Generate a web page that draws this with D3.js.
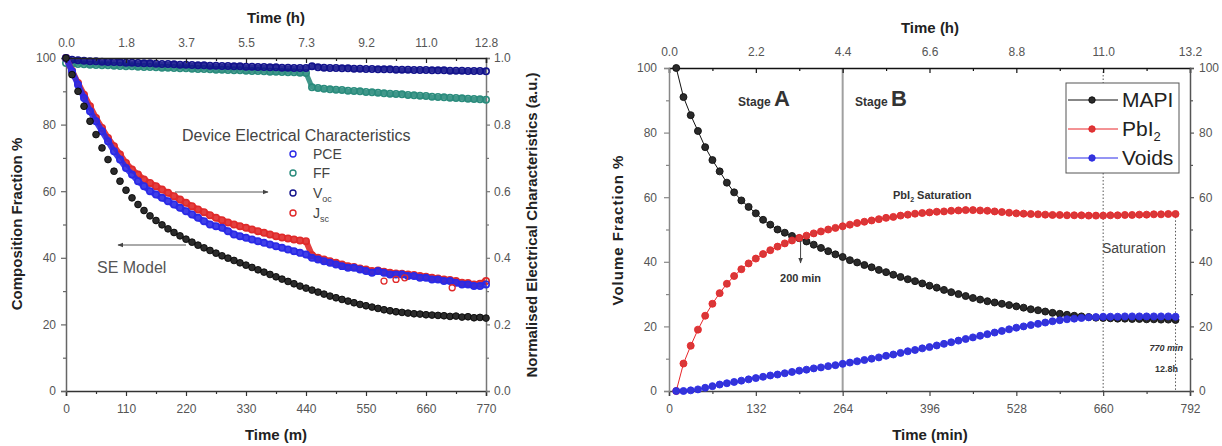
<!DOCTYPE html>
<html>
<head>
<meta charset="utf-8">
<script src="https://cdn.jsdelivr.net/npm/d3@7"></script>
<style>
  body { margin: 0; background: #fff; }
  svg { display: block; font-family: Arial, "Liberation Sans", sans-serif; }
  .tick text { fill: #555; font-size: 12px; }
  .axis-title { font-weight: bold; font-size: 15px; fill: #222; }
</style>
</head>
<body>
<div id="chart"></div>
<script>
// 1: DATA
// left panel: time in minutes
const leftTime = [0,11,22,33,44,55,66,77,88,99,110,121,132,143,154,165,176,187,198,209,220,231,242,253,264,275,286,297,308,319,330,341,352,363,374,385,396,407,418,429,440,451,462,473,484,495,506,517,528,539,550,561,572,583,594,605,616,627,638,649,660,671,682,693,704,715,726,737,748,759,770];
const seModel = [100,95,90,85.5,81,77,73,69.5,66,63,60.3,58,56,54.2,52.6,51.2,49.9,48.7,47.6,46.6,45.6,44.7,43.8,43,42.2,41.4,40.6,39.9,39.2,38.5,37.8,37.1,36.4,35.7,35,34.3,33.6,32.9,32.2,31.5,30.9,30.3,29.7,29.1,28.5,28,27.5,27,26.5,26,25.6,25.2,24.8,24.4,24.1,23.8,23.6,23.4,23.2,23.1,22.9,22.8,22.7,22.6,22.4,22.5,22.2,22.3,22.0,22.1,21.9];
const pce = [1.0,0.96,0.92,0.88,0.84,0.81,0.78,0.75,0.72,0.695,0.67,0.65,0.63,0.615,0.60,0.59,0.58,0.57,0.56,0.55,0.54,0.53,0.52,0.51,0.50,0.495,0.49,0.48,0.47,0.465,0.46,0.455,0.45,0.445,0.44,0.435,0.43,0.425,0.42,0.415,0.41,0.40,0.395,0.39,0.385,0.38,0.375,0.37,0.37,0.365,0.36,0.355,0.36,0.355,0.35,0.35,0.35,0.345,0.345,0.34,0.34,0.335,0.335,0.33,0.33,0.325,0.32,0.32,0.315,0.315,0.32];
const jsc = [1.0,0.962,0.925,0.89,0.855,0.82,0.79,0.76,0.735,0.71,0.685,0.665,0.65,0.635,0.625,0.615,0.605,0.595,0.585,0.575,0.565,0.555,0.545,0.537,0.528,0.52,0.513,0.506,0.50,0.495,0.49,0.485,0.48,0.475,0.47,0.465,0.461,0.458,0.455,0.452,0.45,0.408,0.40,0.395,0.39,0.385,0.38,0.375,0.372,0.368,0.365,0.36,0.362,0.358,0.355,0.353,0.352,0.35,0.348,0.345,0.343,0.34,0.338,0.335,0.333,0.33,0.325,0.324,0.32,0.322,0.33];
const jscOutlierTime = [583,605,621,708];
const jscOutlierValue = [0.33,0.335,0.34,0.31];
const voc = [1.0,0.995,0.993,0.992,0.99,0.99,0.989,0.988,0.988,0.987,0.986,0.986,0.985,0.984,0.984,0.983,0.982,0.982,0.981,0.98,0.98,0.979,0.978,0.978,0.977,0.977,0.976,0.976,0.975,0.975,0.974,0.974,0.973,0.973,0.972,0.972,0.971,0.971,0.97,0.97,0.97,0.975,0.972,0.971,0.97,0.97,0.969,0.969,0.968,0.968,0.967,0.967,0.966,0.966,0.966,0.965,0.965,0.965,0.964,0.964,0.964,0.963,0.963,0.963,0.962,0.962,0.962,0.961,0.961,0.961,0.96];
const ff = [0.985,0.983,0.982,0.981,0.98,0.979,0.978,0.978,0.977,0.976,0.975,0.975,0.974,0.973,0.973,0.972,0.971,0.971,0.97,0.969,0.969,0.968,0.967,0.967,0.966,0.965,0.965,0.964,0.963,0.963,0.962,0.961,0.961,0.96,0.959,0.959,0.958,0.957,0.957,0.956,0.955,0.912,0.91,0.908,0.906,0.905,0.904,0.902,0.901,0.9,0.898,0.897,0.896,0.894,0.893,0.892,0.891,0.889,0.888,0.887,0.886,0.884,0.883,0.882,0.881,0.88,0.879,0.878,0.877,0.876,0.875];

// right panel: time in minutes
const rightTime = [11,22,33,44,55,66,77,88,99,110,121,132,143,154,165,176,187,198,209,220,231,242,253,264,275,286,297,308,319,330,341,352,363,374,385,396,407,418,429,440,451,462,473,484,495,506,517,528,539,550,561,572,583,594,605,616,627,638,649,660,671,682,693,704,715,726,737,748,759,770];
const mapi = [100,91,85.4,80.5,75.5,71.5,68,64.5,61.5,59,57,55,53,51.5,50,49,48,47.3,46.3,45.3,44.3,43.3,42.3,41.5,40.5,39.8,39,38.3,37.5,36.8,36,35.3,34.6,34,33.3,32.6,32,31.3,30.6,30,29.4,28.8,28.3,27.8,27.4,27,26.6,26.2,25.8,25.3,25,24.6,24.2,23.9,23.6,23.3,23.1,22.9,22.7,22.6,22.5,22.4,22.4,22.3,22.3,22.2,22.2,22.1,22.1,22];
const pbi2 = [0,8.5,14,19,23.3,27,30.3,33.2,35.6,37.7,39.5,41,42.4,43.6,44.7,45.7,46.6,47.4,48.1,48.8,49.4,50,50.5,51,51.5,52,52.4,52.8,53.2,53.6,53.9,54.3,54.6,54.9,55.1,55.3,55.5,55.6,55.8,55.9,56,56,55.9,55.8,55.6,55.4,55.2,55,54.9,54.8,54.7,54.6,54.5,54.5,54.4,54.4,54.4,54.3,54.3,54.3,54.4,54.4,54.5,54.5,54.6,54.6,54.7,54.7,54.8,54.8];
const voids = [0,0,0.2,0.5,1.0,1.5,2.0,2.4,2.8,3.2,3.6,4.0,4.4,4.8,5.1,5.5,5.9,6.3,6.6,7.0,7.3,7.7,8.0,8.4,8.8,9.2,9.6,10.0,10.4,10.9,11.3,11.8,12.3,12.7,13.2,13.6,14.1,14.6,15.1,15.6,16.1,16.6,17.1,17.6,18.1,18.6,19.1,19.6,20.0,20.4,20.8,21.2,21.6,21.9,22.2,22.4,22.6,22.8,22.9,23.0,23.0,23.0,23.1,23.1,23.1,23.1,23.1,23.1,23.1,23.0];

// ticks
const leftMinTicks = [0,110,220,330,440,550,660,770];
const leftHourLabels = ["0.0","1.8","3.7","5.5","7.3","9.2","11.0","12.8"];
const rightMinTicks = [0,132,264,396,528,660,792];
const rightHourLabels = ["0.0","2.2","4.4","6.6","8.8","11.0","13.2"];
const fracTicks = [0,20,40,60,80,100];
const normTicks = [0,0.2,0.4,0.6,0.8,1.0];

const leftSeries = [
  { name: "FF", values: ff, color: "#2b8c7d", band: 5 },
  { name: "Voc", values: voc, color: "#14148c", band: 5 },
  { name: "Jsc", values: jsc, color: "#e02a2a", band: 6 },
  { name: "PCE", values: pce, color: "#2a2ae6", band: 6 }
];
const rightSeries = [
  { name: "MAPI", values: mapi, color: "#111", fill: "#2a2a2a" },
  { name: "PbI2", values: pbi2, color: "#e8262a", fill: "#d83838" },
  { name: "Voids", values: voids, color: "#2a2ae8", fill: "#3434d8" }
];

// 2: SVG
const svg = d3.select("#chart").append("svg")
  .attr("width", 1222).attr("height", 446);

const defs = svg.append("defs");
defs.append("marker").attr("id", "arrow")
  .attr("viewBox", "0 0 10 10").attr("refX", 9).attr("refY", 5)
  .attr("markerWidth", 6).attr("markerHeight", 6).attr("orient", "auto-start-reverse")
  .append("path").attr("d", "M0,1 L10,5 L0,9 z").attr("fill", "#444");

// helper: style an axis group
function styleAxis(g, color) {
  g.select(".domain").attr("stroke", color).attr("stroke-width", 1.5);
  g.selectAll(".tick line").attr("stroke", color).attr("stroke-width", 1.2);
}
function minorAxis(g, color) {
  g.select(".domain").remove();
  g.selectAll("text").remove();
  g.selectAll(".tick line").attr("stroke", color).attr("stroke-width", 1.2);
}

// 3: LEFT PANEL
const xL = d3.scaleLinear().domain([0, 770]).range([66, 486]);
const yL = d3.scaleLinear().domain([0, 100]).range([391, 58]);
const yLR = d3.scaleLinear().domain([0, 1]).range([391, 58]);
const left = svg.append("g");

// axes
left.append("g").attr("transform", "translate(0,391)")
  .call(d3.axisBottom(xL).tickValues(leftMinTicks).tickSize(5).tickPadding(8)).call(styleAxis, "#333");
left.append("g").attr("transform", "translate(0,391)")
  .call(d3.axisBottom(xL).tickValues(d3.range(55, 770, 110)).tickSize(3)).call(minorAxis, "#333");
left.append("g").attr("transform", "translate(66,0)")
  .call(d3.axisLeft(yL).tickValues(fracTicks).tickSize(5).tickPadding(5)).call(styleAxis, "#666");
left.append("g").attr("transform", "translate(66,0)")
  .call(d3.axisLeft(yL).tickValues(d3.range(10, 100, 20)).tickSize(3)).call(minorAxis, "#666");
left.append("g").attr("transform", "translate(486,0)")
  .call(d3.axisRight(yLR).tickValues(normTicks).tickSize(4).tickPadding(4)
    .tickFormat(d3.format(".1f"))).call(styleAxis, "#777");
left.append("g").attr("transform", "translate(486,0)")
  .call(d3.axisRight(yLR).tickValues(d3.range(0.1, 1, 0.2)).tickSize(3)).call(minorAxis, "#777");

// electrical characteristics: dense band of open circles
const lineL = d3.line().x(d => xL(d.t)).y(d => yLR(d.v));
leftSeries.forEach(s => {
  const pts = leftTime.map((t, i) => ({ t, v: s.values[i] }));
  left.append("path").attr("d", lineL(pts)).attr("fill", "none")
    .attr("stroke", s.color).attr("stroke-width", s.band).attr("stroke-linejoin", "round")
    .attr("opacity", 0.9);
  left.append("g").selectAll("circle").data(pts).join("circle")
    .attr("cx", d => xL(d.t)).attr("cy", d => yLR(d.v)).attr("r", 3.2)
    .attr("fill", "none").attr("stroke", s.color).attr("stroke-width", 1.6);
});
// scattered Jsc points below the band
left.append("g").selectAll("circle")
  .data(jscOutlierTime.map((t, i) => ({ t, v: jscOutlierValue[i] })))
  .join("circle")
  .attr("cx", d => xL(d.t)).attr("cy", d => yLR(d.v)).attr("r", 3)
  .attr("fill", "none").attr("stroke", "#e02a2a").attr("stroke-width", 1.3);

// top axis drawn over the bands
left.append("g").attr("transform", "translate(0,58)")
  .call(d3.axisTop(xL).tickValues(leftMinTicks).tickSize(-5).tickPadding(11)
    .tickFormat((d, i) => leftHourLabels[i])).call(styleAxis, "#222");
left.append("g").attr("transform", "translate(0,58)")
  .call(d3.axisTop(xL).tickValues(d3.range(55, 770, 110)).tickSize(-3)).call(minorAxis, "#222");

// SE model (filled dark circles)
left.append("g").selectAll("circle")
  .data(leftTime.map((t, i) => ({ t, v: seModel[i] })))
  .join("circle")
  .attr("cx", d => xL(d.t)).attr("cy", d => yL(d.v)).attr("r", 3.4)
  .attr("fill", "#2b2b2b").attr("stroke", "#000").attr("stroke-width", 0.8);

// titles
left.append("text").attr("class", "axis-title").attr("x", 276).attr("y", 23)
  .attr("text-anchor", "middle").text("Time (h)");
left.append("text").attr("class", "axis-title").attr("x", 276).attr("y", 440)
  .attr("text-anchor", "middle").text("Time (m)");
left.append("text").attr("class", "axis-title")
  .attr("transform", "translate(22,224) rotate(-90)")
  .attr("text-anchor", "middle").text("Composition Fraction %");
left.append("text").attr("class", "axis-title")
  .attr("transform", "translate(537,225) rotate(-90)")
  .attr("text-anchor", "middle").text("Normalised Electrical Characteristics (a.u.)");

// legend
left.append("text").attr("x", 182).attr("y", 141).attr("font-size", 16).attr("fill", "#444")
  .text("Device Electrical Characteristics");
const legL = [
  { label: "PCE", sub: "", color: "#2a2ae6", y: 154 },
  { label: "FF", sub: "", color: "#2b8c7d", y: 173 },
  { label: "V", sub: "oc", color: "#14148c", y: 193 },
  { label: "J", sub: "sc", color: "#e02a2a", y: 213 }
];
const lg = left.selectAll(".legL").data(legL).join("g").attr("class", "legL")
  .attr("transform", d => `translate(293,${d.y})`);
lg.append("circle").attr("r", 3).attr("fill", "none")
  .attr("stroke", d => d.color).attr("stroke-width", 1.4);
const lt = lg.append("text").attr("x", 20).attr("y", 5).attr("font-size", 14).attr("fill", "#444")
  .text(d => d.label);
lt.append("tspan").attr("font-size", 9).attr("dy", 4).text(d => d.sub);

// arrows and SE model label
left.append("line").attr("x1", 175).attr("y1", 192).attr("x2", 268).attr("y2", 192)
  .attr("stroke", "#555").attr("stroke-width", 1).attr("marker-end", "url(#arrow)");
left.append("line").attr("x1", 186).attr("y1", 245).attr("x2", 118).attr("y2", 245)
  .attr("stroke", "#555").attr("stroke-width", 1).attr("marker-end", "url(#arrow)");
left.append("text").attr("x", 97).attr("y", 273).attr("font-size", 16).attr("fill", "#555")
  .text("SE Model");

// 4: RIGHT PANEL
const xR = d3.scaleLinear().domain([0, 792]).range([669, 1190]);
const yR = d3.scaleLinear().domain([0, 100]).range([391, 68]);
const right = svg.append("g");

// stage lines
right.append("line").attr("x1", xR(264)).attr("x2", xR(264)).attr("y1", 68).attr("y2", 391)
  .attr("stroke", "#a0a0a0").attr("stroke-width", 2);
right.append("line").attr("x1", xR(660)).attr("x2", xR(660)).attr("y1", 68).attr("y2", 391)
  .attr("stroke", "#555").attr("stroke-width", 1).attr("stroke-dasharray", "1.5,2");
right.append("line").attr("x1", xR(770)).attr("x2", xR(770)).attr("y1", yR(55)).attr("y2", 391)
  .attr("stroke", "#555").attr("stroke-width", 1).attr("stroke-dasharray", "1.5,2");

// axes
right.append("g").attr("transform", "translate(0,391)")
  .call(d3.axisBottom(xR).tickValues(rightMinTicks).tickSize(5).tickPadding(8)).call(styleAxis, "#444");
right.append("g").attr("transform", "translate(0,391)")
  .call(d3.axisBottom(xR).tickValues(d3.range(66, 792, 132)).tickSize(3)).call(minorAxis, "#444");
right.append("g").attr("transform", "translate(0,68)")
  .call(d3.axisTop(xR).tickValues(rightMinTicks).tickSize(-5).tickPadding(12)
    .tickFormat((d, i) => rightHourLabels[i])).call(styleAxis, "#111");
right.append("g").attr("transform", "translate(0,68)")
  .call(d3.axisTop(xR).tickValues(d3.range(66, 792, 132)).tickSize(-3)).call(minorAxis, "#111");
right.append("g").attr("transform", "translate(669,0)")
  .call(d3.axisLeft(yR).tickValues(fracTicks).tickSize(5).tickPadding(7)).call(styleAxis, "#888");
right.append("g").attr("transform", "translate(669,0)")
  .call(d3.axisLeft(yR).tickValues(d3.range(10, 100, 20)).tickSize(3)).call(minorAxis, "#888");
right.append("g").attr("transform", "translate(1190,0)")
  .call(d3.axisRight(yR).tickValues(fracTicks).tickSize(4).tickPadding(5)).call(styleAxis, "#555");
right.append("g").attr("transform", "translate(1190,0)")
  .call(d3.axisRight(yR).tickValues(d3.range(10, 100, 20)).tickSize(3)).call(minorAxis, "#555");

// series
const lineR = d3.line().x(d => xR(d.t)).y(d => yR(d.v));
rightSeries.forEach(s => {
  const pts = rightTime.map((t, i) => ({ t, v: s.values[i] }));
  right.append("path").attr("d", lineR(pts)).attr("fill", "none")
    .attr("stroke", s.color).attr("stroke-width", 1);
  right.append("g").selectAll("circle").data(pts).join("circle")
    .attr("cx", d => xR(d.t)).attr("cy", d => yR(d.v)).attr("r", 3.5)
    .attr("fill", s.fill).attr("stroke", s.color).attr("stroke-width", 0.9);
});

// titles
right.append("text").attr("class", "axis-title").attr("x", 930).attr("y", 33)
  .attr("text-anchor", "middle").text("Time (h)");
right.append("text").attr("class", "axis-title").attr("x", 930).attr("y", 440)
  .attr("text-anchor", "middle").text("Time (min)");
right.append("text").attr("class", "axis-title").attr("letter-spacing", 1)
  .attr("transform", "translate(623,230) rotate(-90)")
  .attr("text-anchor", "middle").text("Volume Fraction %");

// stage labels
[{ x: 738, s: "A" }, { x: 855, s: "B" }].forEach(d => {
  const t = right.append("text").attr("x", d.x).attr("y", 106).attr("fill", "#333").attr("font-weight", "bold");
  t.append("tspan").attr("font-size", 12).text("Stage ");
  t.append("tspan").attr("font-size", 22).text(d.s);
});

// annotations
const ps = right.append("text").attr("x", 893).attr("y", 199).attr("font-size", 11)
  .attr("font-weight", "bold").attr("fill", "#333");
ps.append("tspan").text("PbI");
ps.append("tspan").attr("font-size", 7).attr("dy", 3).text("2");
ps.append("tspan").attr("dy", -3).text(" Saturation");

right.append("line").attr("x1", xR(200)).attr("x2", xR(200)).attr("y1", 241).attr("y2", 263)
  .attr("stroke", "#444").attr("stroke-width", 1).attr("marker-end", "url(#arrow)");
right.append("text").attr("x", xR(200)).attr("y", 282).attr("text-anchor", "middle")
  .attr("font-size", 11).attr("font-weight", "bold").attr("fill", "#333").text("200 min");

right.append("text").attr("x", 1102).attr("y", 253).attr("font-size", 14).attr("fill", "#444")
  .text("Saturation");
right.append("text").attr("x", 1183).attr("y", 351).attr("text-anchor", "end")
  .attr("font-size", 9).attr("font-weight", "bold").attr("font-style", "italic").attr("fill", "#333")
  .text("770 min");
right.append("text").attr("x", 1178).attr("y", 372).attr("text-anchor", "end")
  .attr("font-size", 9).attr("font-weight", "bold").attr("fill", "#333").text("12.8h");

// legend box
const legR = right.append("g");
legR.append("rect").attr("x", 1066).attr("y", 83).attr("width", 113).attr("height", 90)
  .attr("fill", "#fff").attr("stroke", "#555").attr("stroke-width", 1);
rightSeries.forEach((s, i) => {
  const y = 100 + i * 29;
  legR.append("line").attr("x1", 1068).attr("x2", 1118).attr("y1", y).attr("y2", y)
    .attr("stroke", s.color).attr("stroke-width", 1);
  legR.append("circle").attr("cx", 1092).attr("cy", y).attr("r", 3.2)
    .attr("fill", s.fill).attr("stroke", s.color);
  const t = legR.append("text").attr("x", 1122).attr("y", y + 7).attr("font-size", 21).attr("fill", "#222");
  if (s.name === "PbI2") {
    t.append("tspan").text("PbI");
    t.append("tspan").attr("font-size", 13).attr("dy", 5).text("2");
  } else {
    t.text(s.name);
  }
});
</script>
</body>
</html>
